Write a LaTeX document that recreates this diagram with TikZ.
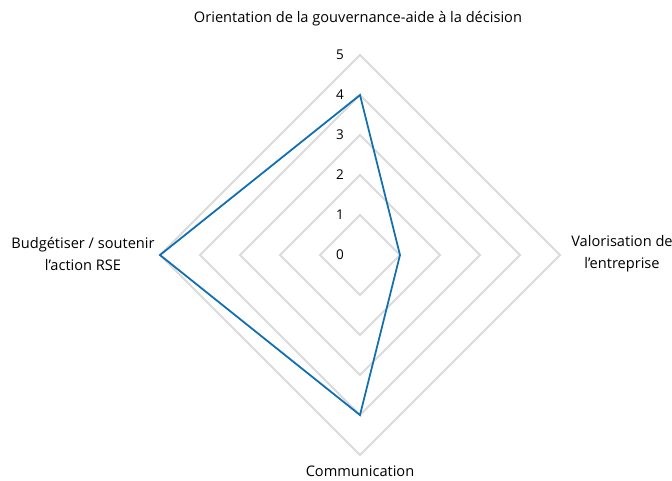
\documentclass[tikz,border=0pt]{standalone}
\usepackage{fontspec}
\setmainfont{Open Sans}
\usetikzlibrary{calc}
\definecolor{serieblue}{HTML}{1270B0}
\begin{document}
\begin{tikzpicture}[x=1pt,y=-1pt,
  grid/.style={draw=black!14,line width=2pt},
  series/.style={draw=serieblue,line width=1.8pt,line join=miter},
  lbl/.style={font=\fontsize{14.6}{22}\selectfont,align=center,inner sep=0pt},
  tick/.style={font=\fontsize{13.5}{15}\selectfont,inner sep=0pt}]
\useasboundingbox (0,0) rectangle (672,480);
\coordinate (c) at (360,255);
\foreach \r in {1,...,5}{
  \draw[grid] ($(c)+(0,-40*\r)$) -- ($(c)+(40*\r,0)$) -- ($(c)+(0,40*\r)$) -- ($(c)+(-40*\r,0)$) -- cycle;
}
\foreach \v in {0,...,5}{
  \node[tick] (t\v) at (340,255-40*\v) {\v};
}
\coordinate (pT) at (360,95);
\coordinate (pR) at (400,255);
\coordinate (pB) at (360,415);
\coordinate (pL) at (160,255);
\draw[series] (pT) -- (pR) -- (pB) -- (pL) -- cycle;
\node[lbl] (top) at (358,19) {Orientation de la gouvernance-aide à la décision};
\node[lbl] (left) at (83,254) {Budgétiser / soutenir\\l’action RSE};
\node[lbl] (right) at (622,254) {Valorisation de\\l’entreprise};
\node[lbl,anchor=north] (bot) at (360,466) {Communication};
\end{tikzpicture}
\end{document}
